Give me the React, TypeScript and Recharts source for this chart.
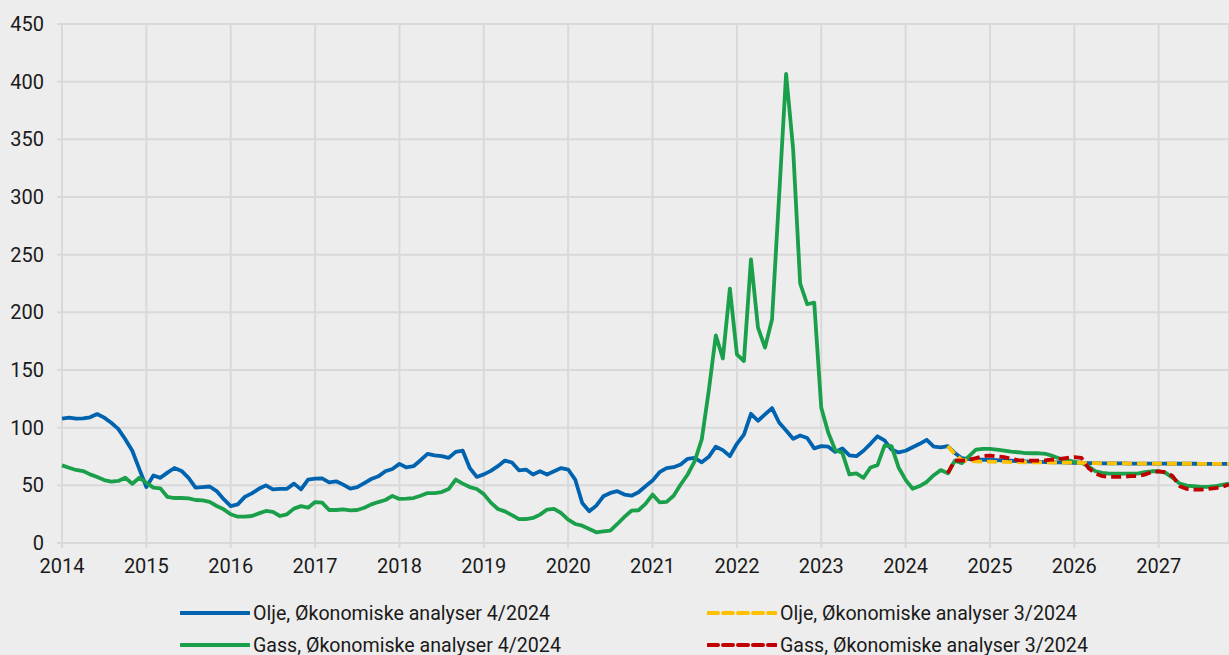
import React from 'react';
import { LineChart, Line, XAxis, YAxis, CartesianGrid, Legend } from 'recharts';

// Monthly prices, index 0 = Jan 2014, last point = Nov 2027
const yearLabels = ['2014', '2015', '2016', '2017', '2018', '2019', '2020', '2021', '2022', '2023', '2024', '2025', '2026', '2027'];
const yTicks = [0, 50, 100, 150, 200, 250, 300, 350, 400, 450];

const olje4 = [
  107.8, 108.7, 107.8, 108, 109, 111.8, 108.7, 104.3, 99, 90, 80, 64,
  48.5, 58.5, 56.5, 61, 65, 62.5, 56.5, 48, 48.5, 49, 45, 38,
  32, 33.5, 40, 43, 47, 50, 46.5, 47, 47, 51.5, 46.5, 55,
  55.8, 56, 52.6, 53.5, 50.6, 47.1, 48.5, 52, 55.5, 57.8, 62.2, 64.2,
  68.6, 65.5, 66.6, 71.8, 77.3, 76, 75.3, 73.8, 79, 80, 65, 57.3,
  59.5, 62.5, 66.6, 71.5, 69.8, 63, 63.7, 59.4, 62.2, 59.4, 62.2, 65,
  63.7, 55, 34.7, 27.5, 32.4, 40.5, 43.4, 44.9, 42, 41, 44, 49.2,
  54.1, 61.4, 65, 65.7, 68, 73, 73.8, 70, 74.7, 83.5, 80.5, 75.3,
  86, 94, 112, 106, 111.5, 117, 104.5, 97.5, 90.4, 93.2, 91, 82,
  84, 83.5, 79, 82, 76, 75.3, 80, 86, 92.5, 89, 81, 78.5,
  80, 83, 86, 89.5, 83.6, 83, 84, 78, 73.5, 72.8, 72.4, 72.2,
  72, 71.8, 71.5, 71.3, 71, 70.8, 70.6, 70.4, 70.2, 70, 69.9, 69.8,
  69.6, 69.4, 69.3, 69.2, 69.1, 69, 69, 69, 68.9, 68.9, 68.9, 68.8,
  68.8, 68.8, 68.7, 68.7, 68.7, 68.7, 68.6, 68.6, 68.6, 68.6, 68.6,
];

const gass4 = [
  67.3, 65.3, 63.3, 62.4, 59.5, 57.2, 54.6, 53.2, 53.8, 56.6, 51.4, 56.6,
  52.3, 48, 47.4, 39.9, 39, 39, 38.7, 37.3, 37, 35.6, 32.1, 29.2,
  24.9, 22.8, 22.8, 23.4, 25.7, 27.8, 26.9, 23.4, 24.9, 29.8, 32, 30.6,
  35.5, 35, 28.6, 28.6, 29.2, 28.3, 28.6, 30.6, 33.5, 35.5, 37.3, 40.8,
  38.2, 38.4, 39, 41, 43.3, 43.3, 44.2, 46.8, 55, 51.5, 48.5, 46.8,
  42.4, 35, 29.5, 27.4, 24.2, 20.7, 20.8, 21.7, 24.6, 29, 29.5, 26,
  20.3, 16.5, 15, 12.2, 9.3, 10.1, 10.7, 16.5, 22.6, 28, 28.4, 33.9,
  42, 35.3, 35.6, 41, 50.7, 59.4, 71, 89.8, 132, 180, 160, 220.6,
  163.6, 157.8, 246, 186.7, 169.4, 194, 300, 406.7, 341.5, 225, 207, 208.4,
  117.3, 95.6, 80.5, 78.2, 59.4, 60.3, 56.5, 65.5, 67.5, 84.5, 84, 65.5,
  54.7, 47, 49.4, 52.9, 58.8, 63.2, 60.5, 71.3, 69.3, 75.1, 81, 81.6,
  81.6, 81, 80.1, 79.2, 78.7, 78, 77.8, 77.8, 77.2, 75.3, 73, 71.8,
  70.3, 69.5, 66.6, 62.2, 60.8, 60.2, 60.2, 60.2, 60.2, 60.2, 61.4, 62.2,
  62.2, 60.8, 56.5, 51.5, 49.8, 49.2, 48.6, 48.6, 49.2, 50.4, 51.5,
];

// Previous forecast (3/2024), starts Jul 2024 (index 126)
const forecastStart = 126;
const olje3 = [
  84, 77, 72, 71, 70.8, 70.6,
  70.5, 70.4, 70.3, 70.2, 70.1, 70, 70, 69.9, 69.9, 69.8, 69.8, 69.7,
  69.6, 69.4, 69.3, 69.2, 69.1, 69, 69, 69, 68.9, 68.9, 68.9, 68.8,
  68.8, 68.8, 68.7, 68.7, 68.7, 68.7, 68.6, 68.6, 68.6, 68.6, 68.6,
];
const gass3 = [
  60.5, 71.7, 71.5, 72, 73.6, 75.5,
  75.8, 75.2, 74.5, 73, 71.8, 71.5, 71.5, 71.5, 71.8, 72.4, 73, 73.8,
  74.4, 73.8, 65.1, 60.2, 57.9, 57.3, 57.3, 57.3, 57.9, 57.9, 59.3, 61.4,
  62.2, 61.4, 57.9, 49.2, 46.9, 46.3, 46.3, 46.9, 47.5, 48.6, 50.7,
];

const data = olje4.map((v, i) => ({
  m: i,
  olje4: v,
  gass4: gass4[i],
  olje3: i >= forecastStart ? olje3[i - forecastStart] : null,
  gass3: i >= forecastStart ? gass3[i - forecastStart] : null,
}));

const xTicks = yearLabels.map((_, i) => i * 12);

const BLUE = '#0063b0';
const GREEN = '#1a9f4a';
const YELLOW = '#ffc000';
const RED = '#c00000';
const GRID = '#d9d9d9';
const FONT = 'Roboto, sans-serif';

const legendItems = [
  { label: 'Olje, Økonomiske analyser 4/2024', color: BLUE, dashed: false, x: 180, y: 0 },
  { label: 'Olje, Økonomiske analyser 3/2024', color: YELLOW, dashed: true, x: 707, y: 0 },
  { label: 'Gass, Økonomiske analyser 4/2024', color: GREEN, dashed: false, x: 180, y: 32 },
  { label: 'Gass, Økonomiske analyser 3/2024', color: RED, dashed: true, x: 707, y: 32 },
];

const ChartLegend = () => (
  <div style={{ position: 'relative', width: 1229, height: 82 }}>
    {legendItems.map((it) => (
      <div
        key={it.label}
        style={{ position: 'absolute', left: it.x, top: 26 + it.y, height: 28, display: 'flex', alignItems: 'center' }}
      >
        <svg width={70} height={8} style={{ marginRight: 3 }}>
          <line
            x1={1}
            y1={4}
            x2={69}
            y2={4}
            stroke={it.color}
            strokeWidth={4}
            strokeDasharray={it.dashed ? '10 5' : undefined}
            strokeLinecap="round"
          />
        </svg>
        <span style={{ fontFamily: FONT, fontSize: 19.6, color: '#1a1a1a', whiteSpace: 'nowrap' }}>{it.label}</span>
      </div>
    ))}
  </div>
);

const App: React.FC = () => {
  return (
    <div style={{ position: 'absolute', left: 0, top: 0, width: 1229, height: 655, background: '#ededed' }}>
      <LineChart width={1229} height={655} data={data} margin={{ top: 24, right: 0, left: 0, bottom: 0 }}>
        <CartesianGrid stroke={GRID} strokeWidth={2} />
        <XAxis
          dataKey="m"
          type="number"
          domain={[0, 166]}
          ticks={xTicks}
          tickFormatter={(v: number) => yearLabels[v / 12]}
          axisLine={false}
          tickLine={{ stroke: GRID, strokeWidth: 2 }}
          tickSize={5}
          tickMargin={11}
          height={30}
          interval={0}
          tick={{ fill: '#1a1a1a', fontSize: 20, fontFamily: FONT }}
        />
        <YAxis
          domain={[0, 450]}
          ticks={yTicks}
          axisLine={false}
          tickLine={{ stroke: GRID, strokeWidth: 2 }}
          tickSize={5}
          tickMargin={13}
          width={62}
          interval={0}
          tick={{ fill: '#1a1a1a', fontSize: 20, fontFamily: FONT }}
        />
        <Legend verticalAlign="bottom" align="left" content={() => <ChartLegend />} wrapperStyle={{ left: 0, width: 1229, height: 82 }} />
        <Line dataKey="olje4" stroke={BLUE} strokeWidth={3.8} dot={false} isAnimationActive={false} strokeLinejoin="round" />
        <Line dataKey="gass4" stroke={GREEN} strokeWidth={3.8} dot={false} isAnimationActive={false} strokeLinejoin="round" />
        <Line dataKey="olje3" stroke={YELLOW} strokeWidth={3.8} strokeDasharray="10 5" dot={false} isAnimationActive={false} strokeLinejoin="round" />
        <Line dataKey="gass3" stroke={RED} strokeWidth={3.8} strokeDasharray="10 5" dot={false} isAnimationActive={false} strokeLinejoin="round" />
      </LineChart>
    </div>
  );
};

export default App;
